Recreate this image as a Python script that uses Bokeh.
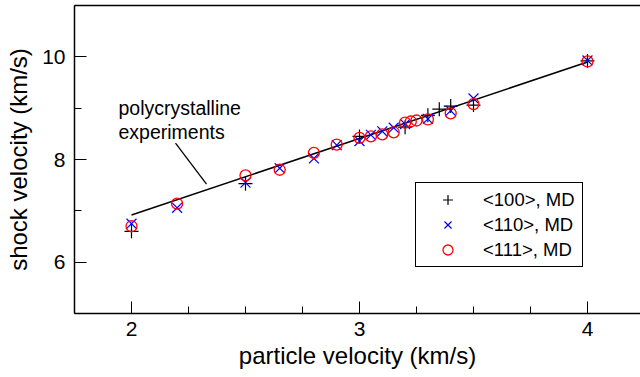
from bokeh.plotting import figure
from bokeh.models import (Range1d, SingleIntervalTicker, FixedTicker, LinearAxis,
                          Legend, LegendItem, Label)
from bokeh.embed import file_html
from bokeh.resources import INLINE

# <100> MD
up_100 = [2.0, 2.5, 3.0, 3.2, 3.3, 3.35, 3.4, 3.5, 4.0]
us_100 = [6.60, 7.53, 8.45, 8.63, 8.86, 8.98, 9.04, 9.06, 9.92]
# <110> MD
up_110 = [2.0, 2.2, 2.5, 2.65, 2.8, 2.9, 3.0, 3.05, 3.1, 3.15, 3.2, 3.3, 3.4, 3.5, 4.0]
us_110 = [6.75, 7.06, 7.55, 7.83, 8.02, 8.28, 8.36, 8.48, 8.55, 8.62, 8.69, 8.79, 8.95, 9.19, 9.93]
# <111> MD
up_111 = [2.0, 2.2, 2.5, 2.65, 2.8, 2.9, 3.0, 3.05, 3.1, 3.15, 3.2, 3.225, 3.25, 3.3, 3.4, 3.5, 4.0]
us_111 = [6.70, 7.14, 7.69, 7.80, 8.13, 8.29, 8.42, 8.45, 8.49, 8.53, 8.72, 8.74, 8.76, 8.78, 8.90, 9.08, 9.91]
# polycrystalline Cu experimental fit (end points)
fit_up = [2.0, 4.0]
fit_us = [6.92, 9.90]

labels = ["<100>, MD", "<110>, MD", "<111>, MD"]
FONT = "Liberation Sans"

p = figure(width=640, height=377, output_backend="svg", toolbar_location=None,
           x_range=Range1d(1.75, 4.2325), y_range=Range1d(5, 11),
           min_border_left=74, min_border_right=0, min_border_top=5, min_border_bottom=64)
p.grid.visible = False
p.outline_line_color = None
p.background_fill_color = "white"
p.border_fill_color = "white"

for ax in (p.xaxis[0], p.yaxis[0]):
    ax.axis_line_color = "black"
    ax.axis_line_width = 1.5
    ax.major_tick_in = 12
    ax.major_tick_out = 0
    ax.minor_tick_in = 7
    ax.minor_tick_out = 0
    ax.major_tick_line_color = "black"
    ax.minor_tick_line_color = "black"
    ax.major_tick_line_width = 1
    ax.minor_tick_line_width = 1
    ax.major_label_text_font = FONT
    ax.major_label_text_font_size = "21px"
    ax.major_label_text_color = "black"
    ax.axis_label_text_font = FONT
    ax.axis_label_text_font_size = "24px"
    ax.axis_label_text_font_style = "normal"
    ax.axis_label_text_color = "black"

p.xaxis.ticker = SingleIntervalTicker(interval=1, num_minor_ticks=4)
p.yaxis.ticker = SingleIntervalTicker(interval=2, num_minor_ticks=2)
p.xaxis.axis_label = "particle velocity (km/s)"
p.yaxis.axis_label = "shock velocity (km/s)"
p.xaxis.major_label_standoff = 8
p.yaxis.major_label_standoff = 9
p.xaxis.axis_label_standoff = 3
p.yaxis.axis_label_standoff = 7

top = LinearAxis(ticker=FixedTicker(ticks=[]), major_tick_in=0, major_tick_out=0,
                 minor_tick_in=0, minor_tick_out=0, axis_line_color="black",
                 axis_line_width=1.5, major_label_text_font_size="0px")
p.add_layout(top, "above")

# experimental fit line and leader line
p.line(fit_up, fit_us, line_color="black", line_width=1.5)
p.line([2.193, 2.329], [8.32, 7.52], line_color="black", line_width=1.3)

r1 = p.scatter(up_100, us_100, marker="cross", size=14, line_color="black",
               line_width=1.2, fill_color=None)
r2 = p.scatter(up_110, us_110, marker="x", size=14, line_color="blue",
               line_width=1.2, fill_color=None)
r3 = p.scatter(up_111, us_111, marker="circle", size=11, line_color="red",
               line_width=1.3, fill_color=None)

ann = Label(x=1.943, y=9.22, text="polycrystalline\nexperiments", text_font=FONT,
            text_font_size="19.5px", text_color="black", text_align="left",
            text_baseline="top", text_line_height=1.1)
p.add_layout(ann)

legend = Legend(items=[LegendItem(label=labels[0], renderers=[r1]),
                       LegendItem(label=labels[1], renderers=[r2]),
                       LegendItem(label=labels[2], renderers=[r3])],
                location=(341, 46), border_line_color="black", border_line_width=1.2,
                border_line_alpha=1.0,
                padding=4, spacing=0, glyph_width=55, glyph_height=25,
                label_height=25, label_width=95, label_standoff=8, label_text_font=FONT,
                label_text_font_size="18.5px", label_text_color="black", margin=0,
                background_fill_color="white", background_fill_alpha=1)
p.add_layout(legend)

open("out.html", "w").write(file_html(p, INLINE))
